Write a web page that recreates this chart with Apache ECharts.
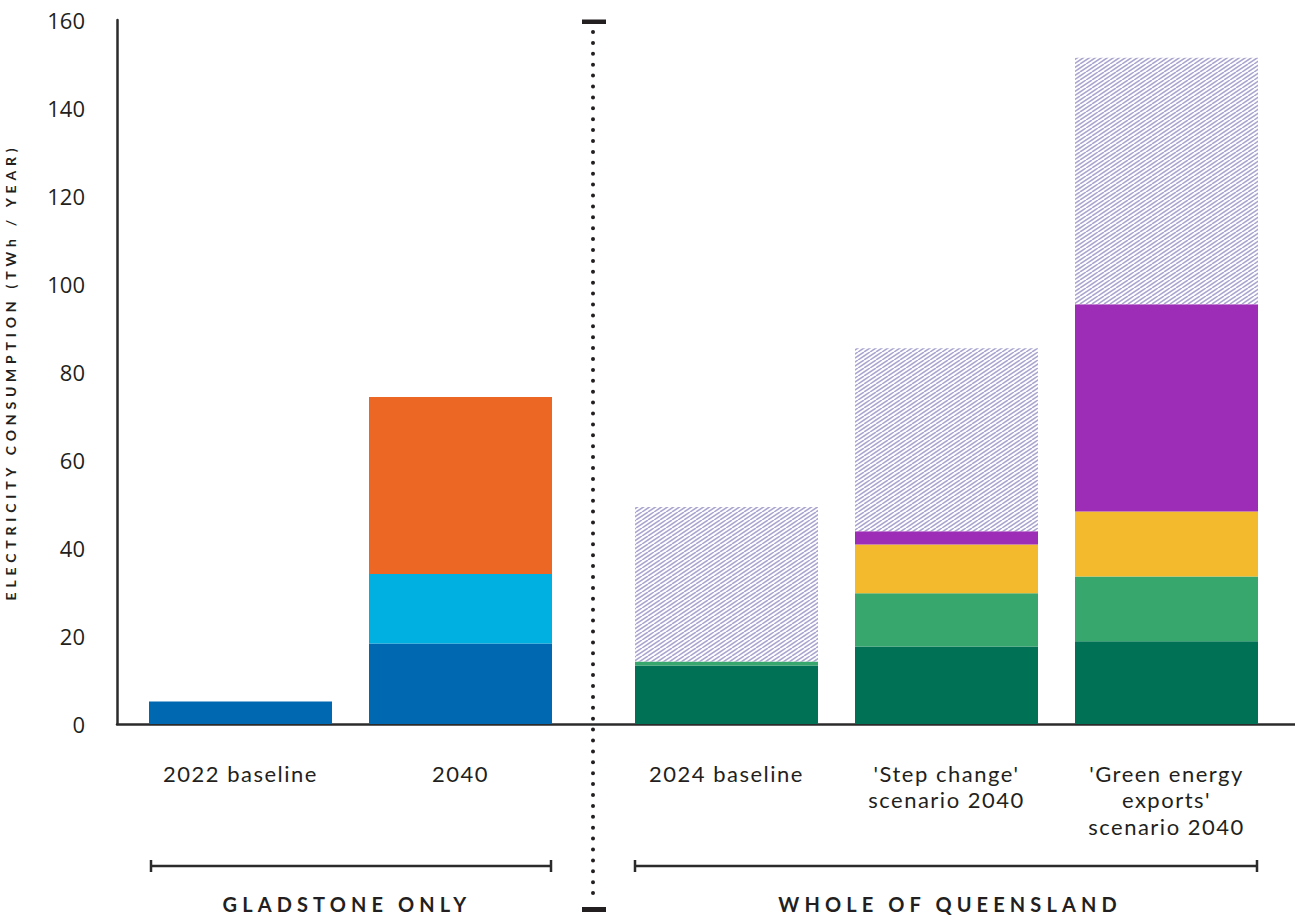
<!DOCTYPE html>
<html><head><meta charset="utf-8">
<script src="https://cdn.jsdelivr.net/npm/echarts@6/dist/echarts.min.js"></script>
<style>html,body{margin:0;padding:0;background:#fff}#c{width:1295px;height:916px}</style>
</head><body><div id="c"></div>
<script>
// ---- data ----
const gladstoneCategories = ['2022 baseline', '2040'];
const gladstoneBlue = [5.1, 18.3];
const gladstoneCyan = [0, 15.8];
const gladstoneOrange = [0, 40.2];

const queenslandCategories = ['2024 baseline', "'Step change'\nscenario 2040", "'Green energy\nexports'\nscenario 2040"];
const qldDarkGreen = [13.3, 17.6, 18.8];
const qldLightGreen = [0.9, 12.1, 14.7];
const qldYellow = [0, 11.1, 14.8];
const qldPurple = [0, 3.0, 47.1];
const qldHatched = [35.1, 41.6, 56.0];

const yTickLabels = [0, 20, 40, 60, 80, 100, 120, 140, 160];
const groupLabels = ['GLADSTONE ONLY', 'WHOLE OF QUEENSLAND'];
const yAxisTitle = 'ELECTRICITY CONSUMPTION (TWh / YEAR)';

// ---- styling ----
const INK = '#231f20';
const FONT = 'Open Sans';
const LABELFONT = 'Lato';
const BOLDFONT = 'Lato';

function hatchCanvas() {
  const c = document.createElement('canvas');
  c.width = 12; c.height = 8;
  const ctx = c.getContext('2d');
  ctx.fillStyle = '#ffffff';
  ctx.fillRect(0, 0, 12, 8);
  ctx.strokeStyle = '#a9a5cf';
  ctx.lineWidth = 1.5;
  for (let k = -3; k <= 3; k++) {
    ctx.beginPath();
    ctx.moveTo(k * 6, 8);
    ctx.lineTo(k * 6 + 12, 0);
    ctx.stroke();
  }
  return c;
}
const hatch = { image: hatchCanvas(), repeat: 'repeat' };

const chart = echarts.init(document.getElementById('c'), null, { renderer: 'svg' });

const commonX = {
  type: 'category',
  axisLine: { show: false },
  axisTick: { show: false },
  axisLabel: { fontFamily: LABELFONT, fontSize: 22, lineHeight: 26.5, color: INK, margin: 36, interval: 0 }
};
const hiddenY = { type: 'value', min: 0, max: 160, interval: 20, show: false };

function bar(name, data, color, gridIdx, stack) {
  return {
    type: 'bar', name, data, stack,
    xAxisIndex: gridIdx, yAxisIndex: gridIdx,
    barWidth: 183,
    itemStyle: { color },
    silent: true
  };
}

const option = {
  animation: false,
  backgroundColor: '#ffffff',
  grid: [
    { left: 117, right: 0, top: 20, bottom: 192, outerBoundsMode: 'none', containLabel: false },
    { left: 130.5, width: 440, top: 20, bottom: 192, outerBoundsMode: 'none', containLabel: false },
    { left: 616.5, width: 660, top: 20, bottom: 192, outerBoundsMode: 'none', containLabel: false }
  ],
  xAxis: [
    { gridIndex: 0, type: 'value', min: 0, max: 1,
      axisLine: { show: true, lineStyle: { color: '#2b2b2b', width: 2.5 } },
      axisTick: { show: false }, axisLabel: { show: false }, splitLine: { show: false } },
    Object.assign({ gridIndex: 1, data: gladstoneCategories }, commonX),
    Object.assign({ gridIndex: 2, data: queenslandCategories }, commonX)
  ],
  yAxis: [
    { gridIndex: 0, type: 'value', min: 0, max: 160, interval: 20,
      axisLine: { show: true, lineStyle: { color: '#2b2b2b', width: 2.5 } },
      axisTick: { show: false }, splitLine: { show: false },
      axisLabel: { fontFamily: FONT, fontSize: 22, color: INK, margin: 32,
        formatter: v => (yTickLabels.indexOf(v) >= 0 ? String(v) : '') },
      name: yAxisTitle, nameLocation: 'middle', nameGap: 100,
      nameTextStyle: { fontFamily: BOLDFONT, fontSize: 14, fontWeight: 'bold', color: INK } },
    Object.assign({ gridIndex: 1 }, hiddenY),
    Object.assign({ gridIndex: 2 }, hiddenY)
  ],
  series: [
    { type: 'line', xAxisIndex: 0, yAxisIndex: 0, data: [], silent: true },
    bar('Gladstone base', gladstoneBlue, '#0067b1', 1, 'g'),
    bar('Gladstone cyan', gladstoneCyan, '#00b0e0', 1, 'g'),
    bar('Gladstone orange', gladstoneOrange, '#eb6723', 1, 'g'),
    bar('Queensland dark green', qldDarkGreen, '#007155', 2, 'q'),
    bar('Queensland light green', qldLightGreen, '#38a76e', 2, 'q'),
    bar('Queensland yellow', qldYellow, '#f4ba2d', 2, 'q'),
    bar('Queensland purple', qldPurple, '#9d2cb6', 2, 'q'),
    bar('Queensland hatched', qldHatched, hatch, 2, 'q')
  ],
  graphic: [
    // divider
    { type: 'line', silent: true, shape: { x1: 593, y1: 32, x2: 593, y2: 900 },
      style: { stroke: INK, lineWidth: 4, lineDash: [0, 10.9], lineCap: 'round' } },
    { type: 'rect', silent: true, shape: { x: 582, y: 19.5, width: 24, height: 4.5 }, style: { fill: INK } },
    { type: 'rect', silent: true, shape: { x: 582, y: 907, width: 24, height: 5 }, style: { fill: INK } },
    // brackets
    { type: 'line', silent: true, shape: { x1: 151, y1: 866, x2: 551, y2: 866 }, style: { stroke: '#2b2b2b', lineWidth: 2.5 } },
    { type: 'line', silent: true, shape: { x1: 151, y1: 860, x2: 151, y2: 872 }, style: { stroke: '#2b2b2b', lineWidth: 2.5 } },
    { type: 'line', silent: true, shape: { x1: 551, y1: 860, x2: 551, y2: 872 }, style: { stroke: '#2b2b2b', lineWidth: 2.5 } },
    { type: 'line', silent: true, shape: { x1: 635, y1: 866, x2: 1257, y2: 866 }, style: { stroke: '#2b2b2b', lineWidth: 2.5 } },
    { type: 'line', silent: true, shape: { x1: 635, y1: 860, x2: 635, y2: 872 }, style: { stroke: '#2b2b2b', lineWidth: 2.5 } },
    { type: 'line', silent: true, shape: { x1: 1257, y1: 860, x2: 1257, y2: 872 }, style: { stroke: '#2b2b2b', lineWidth: 2.5 } },
    // group labels
    { type: 'text', silent: true, x: 347, y: 904,
      style: { text: groupLabels[0], fontFamily: BOLDFONT, fontSize: 20, fontWeight: 'bold', fill: INK, align: 'center', verticalAlign: 'middle' } },
    { type: 'text', silent: true, x: 950, y: 904,
      style: { text: groupLabels[1], fontFamily: BOLDFONT, fontSize: 20, fontWeight: 'bold', fill: INK, align: 'center', verticalAlign: 'middle' } }
  ]
};
chart.setOption(option);

// letter-spacing (SVG text)
const categoryLines = new Set(gladstoneCategories.concat(queenslandCategories).join('\n').split('\n'));
function spaceOut() {
  document.querySelectorAll('#c svg text').forEach(t => {
    const s = t.textContent;
    if (s === groupLabels[0] || s === groupLabels[1]) t.style.letterSpacing = '5.1px';
    else if (s === yAxisTitle) t.style.letterSpacing = '4.8px';
    else if (categoryLines.has(s)) t.style.letterSpacing = '1.5px';
  });
}
spaceOut();
chart.on('finished', spaceOut);
</script>
</body></html>
